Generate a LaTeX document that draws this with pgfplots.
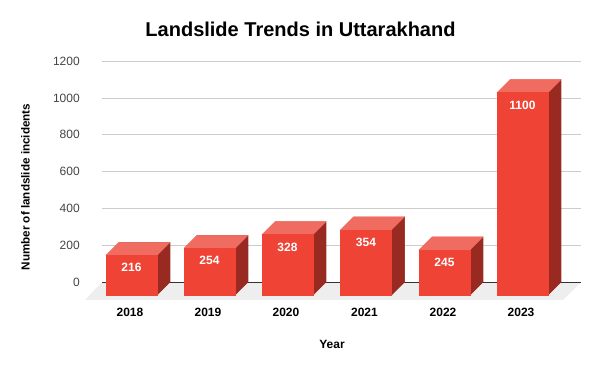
\documentclass[border=0pt]{standalone}
\usepackage{pgfplots}
\usepackage{pgfplotstable}
\usepackage{fontspec}
\setmainfont{Liberation Sans}
\pgfplotsset{compat=1.18}
\definecolor{front}{HTML}{EE4335}
\definecolor{topf}{HTML}{F06C60}
\definecolor{sidef}{HTML}{982A22}
\definecolor{floorf}{HTML}{EEEEEE}
\definecolor{gridc}{HTML}{CCCCCC}
\definecolor{zeroc}{HTML}{333333}
\definecolor{tickc}{HTML}{444444}
\pgfplotsset{
  sideface/.style={draw=sidef,line width=0.3pt,fill=sidef,forget plot},
  topface/.style={draw=topf,line width=0.3pt,fill=topf,forget plot},
  frontface/.style={draw=front,line width=0.3pt,fill=front,forget plot},
}
% xc: pixel centre of the front face; back: centre of the rear face; v: value
\pgfplotstableread{
xc    back   v
131.5 144.5  216
209.5 222.5  254
287.5 300.5  328
366   379    354
444.5 457.5  245
522.5 535.5  1100
}\datatable
\begin{document}
\begin{tikzpicture}
\path[use as bounding box] (0pt,0pt) rectangle (450pt,278.25pt);
\begin{axis}[
  name=main, at={(63.75pt,53.25pt)}, anchor=south west,
  x=0.75pt, y=0.138pt, scale only axis,
  xmin=85, xmax=581, ymin=-97.8, ymax=1200,
  clip=false,
  axis line style={draw=none},
  major tick length=0pt,
  ytick={0,200,400,600,800,1000,1200},
  xtick={130,208,286,364.5,443,521},
  xticklabels={2018,2019,2020,2021,2022,2023},
  ticklabel style={/pgf/number format/1000 sep={}},
  /pgf/number format/assume math mode=true,
  yticklabel style={font=\fontsize{9}{11}\selectfont, text=tickc, inner sep=0pt, xshift=-3.75pt},
  xticklabel style={font=\fontsize{9}{11}\selectfont\bfseries, text=black, inner sep=0pt, yshift=-6pt},
  xlabel={Year}, 
  xlabel style={at={(axis cs:332,-97.8)}, anchor=center, yshift=-33pt, font=\fontsize{9}{11}\selectfont\bfseries},
  ylabel={Number of landslide incidents},
  ylabel style={at={(axis cs:85,516)}, anchor=center, yshift=44.6pt, font=\fontsize{8.75}{11}\selectfont\bfseries},
  title={Landslide Trends in Uttarakhand},
  title style={at={(axis cs:300.5,1200)}, anchor=center, yshift=17.6pt, font=\fontsize{15}{18}\selectfont\bfseries},
]
% floor and grid
\addplot[draw=none,fill=floorf,forget plot] coordinates {(85,-97.8) (563,-97.8) (581,0) (102,0)} -- cycle;
\addplot[gridc,line width=0.75pt,forget plot] coordinates {(102,200) (581,200)};
\addplot[gridc,line width=0.75pt,forget plot] coordinates {(102,400) (581,400)};
\addplot[gridc,line width=0.75pt,forget plot] coordinates {(102,600) (581,600)};
\addplot[gridc,line width=0.75pt,forget plot] coordinates {(102,800) (581,800)};
\addplot[gridc,line width=0.75pt,forget plot] coordinates {(102,1000) (581,1000)};
\addplot[gridc,line width=0.75pt,forget plot] coordinates {(102,1200) (581,1200)};
\addplot[zeroc,line width=0.75pt,forget plot] coordinates {(102,0) (581,0)};
% rear faces carry the true values
\addplot[ybar,bar width=38.25pt,bar shift=0pt,draw=none,fill=sidef,forget plot] table[x=back,y=v] {\datatable};
% side faces
\addplot[sideface] coordinates {(157,-70.65) (170,0) (170,216) (157,145.35)} -- cycle;
\addplot[sideface] coordinates {(235,-70.65) (248,0) (248,254) (235,183.35)} -- cycle;
\addplot[sideface] coordinates {(313,-70.65) (326,0) (326,328) (313,257.35)} -- cycle;
\addplot[sideface] coordinates {(391.5,-70.65) (404.5,0) (404.5,354) (391.5,283.35)} -- cycle;
\addplot[sideface] coordinates {(470,-70.65) (483,0) (483,245) (470,174.35)} -- cycle;
\addplot[sideface] coordinates {(548,-70.65) (561,0) (561,1100) (548,1029.35)} -- cycle;
% top faces
\addplot[topface] coordinates {(106,145.35) (157,145.35) (170,216) (119,216)} -- cycle;
\addplot[topface] coordinates {(184,183.35) (235,183.35) (248,254) (197,254)} -- cycle;
\addplot[topface] coordinates {(262,257.35) (313,257.35) (326,328) (275,328)} -- cycle;
\addplot[topface] coordinates {(340.5,283.35) (391.5,283.35) (404.5,354) (353.5,354)} -- cycle;
\addplot[topface] coordinates {(419,174.35) (470,174.35) (483,245) (432,245)} -- cycle;
\addplot[topface] coordinates {(497,1029.35) (548,1029.35) (561,1100) (510,1100)} -- cycle;
% front faces
\addplot[frontface] coordinates {(106,-70.65) (157,-70.65) (157,145.35) (106,145.35)} -- cycle;
\addplot[frontface] coordinates {(184,-70.65) (235,-70.65) (235,183.35) (184,183.35)} -- cycle;
\addplot[frontface] coordinates {(262,-70.65) (313,-70.65) (313,257.35) (262,257.35)} -- cycle;
\addplot[frontface] coordinates {(340.5,-70.65) (391.5,-70.65) (391.5,283.35) (340.5,283.35)} -- cycle;
\addplot[frontface] coordinates {(419,-70.65) (470,-70.65) (470,174.35) (419,174.35)} -- cycle;
\addplot[frontface] coordinates {(497,-70.65) (548,-70.65) (548,1029.35) (497,1029.35)} -- cycle;
% value labels
\addplot[draw=none,mark=none,forget plot,
  point meta=\thisrow{v},
  nodes near coords,
  every node near coord/.append style={anchor=center,yshift=-9.3pt,text=white,inner sep=0pt,
    font=\fontsize{9}{11}\selectfont\bfseries,
    /pgf/number format/1000 sep={},/pgf/number format/assume math mode=true},
] table[x=xc,y expr=\thisrow{v}-70.65] {\datatable};
\end{axis}
\end{tikzpicture}
\end{document}
